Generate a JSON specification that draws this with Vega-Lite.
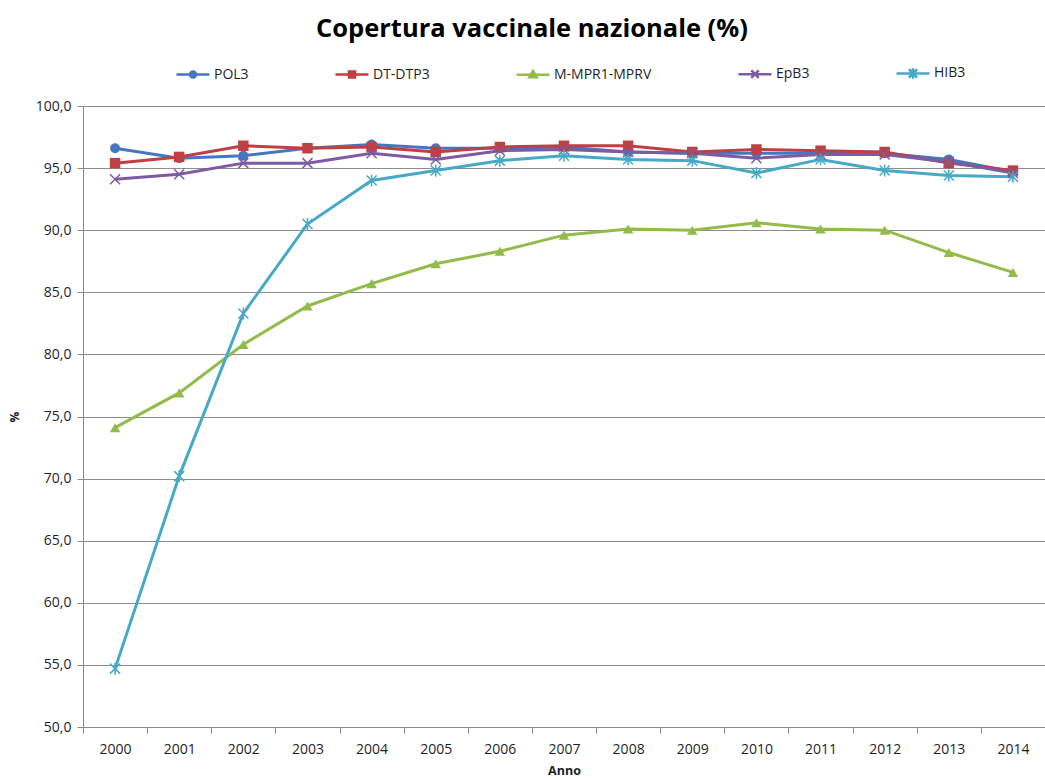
{
  "$schema": "https://vega.github.io/schema/vega-lite/v6.json",
  "autosize": "none",
  "padding": {"left": 83, "top": 106, "right": 0, "bottom": 53},
  "width": 962,
  "height": 621,
  "background": "white",
  "title": {
    "text": "Copertura vaccinale nazionale (%)",
    "font": "Open Sans",
    "fontSize": 25.5,
    "fontWeight": "bold",
    "color": "#000000",
    "anchor": "middle",
    "frame": "bounds",
    "offset": 22,
    "dx": 5
  },
  "data": {
    "values": [
      {"anno": "2000", "serie": "POL3", "v": 96.6},
      {"anno": "2001", "serie": "POL3", "v": 95.8},
      {"anno": "2002", "serie": "POL3", "v": 96.0},
      {"anno": "2003", "serie": "POL3", "v": 96.6},
      {"anno": "2004", "serie": "POL3", "v": 96.9},
      {"anno": "2005", "serie": "POL3", "v": 96.6},
      {"anno": "2006", "serie": "POL3", "v": 96.6},
      {"anno": "2007", "serie": "POL3", "v": 96.7},
      {"anno": "2008", "serie": "POL3", "v": 96.3},
      {"anno": "2009", "serie": "POL3", "v": 96.2},
      {"anno": "2010", "serie": "POL3", "v": 96.2},
      {"anno": "2011", "serie": "POL3", "v": 96.2},
      {"anno": "2012", "serie": "POL3", "v": 96.2},
      {"anno": "2013", "serie": "POL3", "v": 95.7},
      {"anno": "2014", "serie": "POL3", "v": 94.7},
      {"anno": "2000", "serie": "DT-DTP3", "v": 95.4},
      {"anno": "2001", "serie": "DT-DTP3", "v": 95.9},
      {"anno": "2002", "serie": "DT-DTP3", "v": 96.8},
      {"anno": "2003", "serie": "DT-DTP3", "v": 96.6},
      {"anno": "2004", "serie": "DT-DTP3", "v": 96.7},
      {"anno": "2005", "serie": "DT-DTP3", "v": 96.3},
      {"anno": "2006", "serie": "DT-DTP3", "v": 96.7},
      {"anno": "2007", "serie": "DT-DTP3", "v": 96.8},
      {"anno": "2008", "serie": "DT-DTP3", "v": 96.8},
      {"anno": "2009", "serie": "DT-DTP3", "v": 96.3},
      {"anno": "2010", "serie": "DT-DTP3", "v": 96.5},
      {"anno": "2011", "serie": "DT-DTP3", "v": 96.4},
      {"anno": "2012", "serie": "DT-DTP3", "v": 96.3},
      {"anno": "2013", "serie": "DT-DTP3", "v": 95.4},
      {"anno": "2014", "serie": "DT-DTP3", "v": 94.8},
      {"anno": "2000", "serie": "M-MPR1-MPRV", "v": 74.1},
      {"anno": "2001", "serie": "M-MPR1-MPRV", "v": 76.9},
      {"anno": "2002", "serie": "M-MPR1-MPRV", "v": 80.8},
      {"anno": "2003", "serie": "M-MPR1-MPRV", "v": 83.9},
      {"anno": "2004", "serie": "M-MPR1-MPRV", "v": 85.7},
      {"anno": "2005", "serie": "M-MPR1-MPRV", "v": 87.3},
      {"anno": "2006", "serie": "M-MPR1-MPRV", "v": 88.3},
      {"anno": "2007", "serie": "M-MPR1-MPRV", "v": 89.6},
      {"anno": "2008", "serie": "M-MPR1-MPRV", "v": 90.1},
      {"anno": "2009", "serie": "M-MPR1-MPRV", "v": 90.0},
      {"anno": "2010", "serie": "M-MPR1-MPRV", "v": 90.6},
      {"anno": "2011", "serie": "M-MPR1-MPRV", "v": 90.1},
      {"anno": "2012", "serie": "M-MPR1-MPRV", "v": 90.0},
      {"anno": "2013", "serie": "M-MPR1-MPRV", "v": 88.2},
      {"anno": "2014", "serie": "M-MPR1-MPRV", "v": 86.6},
      {"anno": "2000", "serie": "EpB3", "v": 94.1},
      {"anno": "2001", "serie": "EpB3", "v": 94.5},
      {"anno": "2002", "serie": "EpB3", "v": 95.4},
      {"anno": "2003", "serie": "EpB3", "v": 95.4},
      {"anno": "2004", "serie": "EpB3", "v": 96.2},
      {"anno": "2005", "serie": "EpB3", "v": 95.7},
      {"anno": "2006", "serie": "EpB3", "v": 96.4},
      {"anno": "2007", "serie": "EpB3", "v": 96.5},
      {"anno": "2008", "serie": "EpB3", "v": 96.3},
      {"anno": "2009", "serie": "EpB3", "v": 96.2},
      {"anno": "2010", "serie": "EpB3", "v": 95.8},
      {"anno": "2011", "serie": "EpB3", "v": 96.1},
      {"anno": "2012", "serie": "EpB3", "v": 96.1},
      {"anno": "2013", "serie": "EpB3", "v": 95.5},
      {"anno": "2014", "serie": "EpB3", "v": 94.6},
      {"anno": "2000", "serie": "HIB3", "v": 54.7},
      {"anno": "2001", "serie": "HIB3", "v": 70.2},
      {"anno": "2002", "serie": "HIB3", "v": 83.3},
      {"anno": "2003", "serie": "HIB3", "v": 90.5},
      {"anno": "2004", "serie": "HIB3", "v": 94.0},
      {"anno": "2005", "serie": "HIB3", "v": 94.8},
      {"anno": "2006", "serie": "HIB3", "v": 95.6},
      {"anno": "2007", "serie": "HIB3", "v": 96.0},
      {"anno": "2008", "serie": "HIB3", "v": 95.7},
      {"anno": "2009", "serie": "HIB3", "v": 95.6},
      {"anno": "2010", "serie": "HIB3", "v": 94.6},
      {"anno": "2011", "serie": "HIB3", "v": 95.7},
      {"anno": "2012", "serie": "HIB3", "v": 94.8},
      {"anno": "2013", "serie": "HIB3", "v": 94.4},
      {"anno": "2014", "serie": "HIB3", "v": 94.3}
    ]
  },
  "encoding": {
    "x": {
      "field": "anno",
      "type": "ordinal",
      "bandPosition": 0.5,
      "scale": {"type": "band", "paddingInner": 0, "paddingOuter": 0},
      "axis": {
        "title": "Anno",
        "labelAngle": 0,
        "tickBand": "extent",
        "grid": false,
        "domainColor": "#8a8a8a",
        "tickColor": "#8a8a8a",
        "tickSize": 6,
        "labelPadding": 9,
        "labelFontSize": 14,
        "labelColor": "#1e1e2a",
        "titleFontSize": 12.5,
        "titleFontWeight": "bold",
        "titlePadding": 8,
        "titleColor": "#1e1e2a"
      }
    },
    "y": {
      "field": "v",
      "type": "quantitative",
      "scale": {"domain": [50, 100], "nice": false, "zero": false},
      "axis": {
        "title": "%",
        "values": [50, 55, 60, 65, 70, 75, 80, 85, 90, 95, 100],
        "format": ".1f",
        "grid": true,
        "gridColor": "#8c8c8c",
        "gridWidth": 1,
        "domainColor": "#8a8a8a",
        "tickColor": "#8a8a8a",
        "tickSize": 6,
        "labelPadding": 6,
        "labelFontSize": 14,
        "labelColor": "#1e1e2a",
        "titleFontSize": 12,
        "titleFontWeight": "bold",
        "titlePadding": 14,
        "titleColor": "#1e1e2a"
      }
    },
    "color": {
      "field": "serie",
      "type": "nominal",
      "scale": {
        "domain": ["POL3", "DT-DTP3", "M-MPR1-MPRV", "EpB3", "HIB3"],
        "range": ["#4577c0", "#be4040", "#93bb4a", "#7d5ba3", "#46a9c6"]
      },
      "legend": {
        "title": null,
        "orient": "none",
        "direction": "horizontal",
        "legendX": 101,
        "legendY": -42,
        "columnPadding": 81,
        "labelOffset": 12,
        "labelFontSize": 14,
        "labelFont": "Open Sans",
        "labelColor": "#1e1e2a",
        "symbolSize": 225,
        "symbolStrokeWidth": 2.5
      }
    }
  },
  "layer": [
    {
      "mark": {"type": "line", "strokeWidth": 3},
      "encoding": {"detail": {"field": "serie"}}
    },
    {
      "transform": [{"filter": "datum.serie == 'POL3'"}],
      "mark": {"type": "point", "shape": "circle", "filled": true, "size": 100, "opacity": 1}
    },
    {
      "transform": [{"filter": "datum.serie == 'DT-DTP3'"}],
      "mark": {"type": "point", "shape": "square", "filled": true, "size": 110, "opacity": 1}
    },
    {
      "transform": [{"filter": "datum.serie == 'M-MPR1-MPRV'"}],
      "mark": {"type": "point", "shape": "triangle-up", "filled": true, "size": 110, "opacity": 1}
    },
    {
      "transform": [{"filter": "datum.serie == 'EpB3'"}],
      "mark": {"type": "point", "shape": "M-1,-1L1,1M-1,1L1,-1", "filled": false, "size": 100, "strokeWidth": 1.5, "opacity": 1}
    },
    {
      "transform": [{"filter": "datum.serie == 'HIB3'"}],
      "mark": {"type": "point", "shape": "M-1,-1L1,1M-1,1L1,-1M0,-1.2L0,1.2", "filled": false, "size": 100, "strokeWidth": 1.5, "opacity": 1}
    },
    {
      "transform": [{"filter": "datum.v > 1000"}],
      "mark": {"type": "point", "filled": true, "size": 225, "strokeWidth": 2.5, "opacity": 1},
      "encoding": {
        "stroke": {
          "field": "serie",
          "type": "nominal",
          "scale": {
            "domain": ["POL3", "DT-DTP3", "M-MPR1-MPRV", "EpB3", "HIB3"],
            "range": ["#4577c0", "#be4040", "#93bb4a", "#7d5ba3", "#46a9c6"]
          }
        },
        "shape": {
          "field": "serie",
          "type": "nominal",
          "scale": {
            "domain": ["POL3", "DT-DTP3", "M-MPR1-MPRV", "EpB3", "HIB3"],
            "range": [
              "M-2.2,0L2.2,0M-0.4,0A0.4,0.4 0 1,1 0.4,0A0.4,0.4 0 1,1 -0.4,0Z",
              "M-2.2,0L2.2,0M-0.4,-0.4L0.4,-0.4L0.4,0.4L-0.4,0.4Z",
              "M-2.2,0L2.2,0M0,-0.5L0.5,0.35L-0.5,0.35Z",
              "M-2.2,0L2.2,0M-0.5,-0.5L0.5,0.5M-0.5,0.5L0.5,-0.5",
              "M-2.2,0L2.2,0M-0.55,-0.55L0.55,0.55M-0.55,0.55L0.55,-0.55M0,-0.7L0,0.7"
            ]
          }
        }
      }
    }
  ],
  "config": {
    "locale": {"number": {"decimal": ",", "thousands": ".", "grouping": [3], "currency": ["", " €"]}},
    "view": {"stroke": null},
    "font": "Open Sans",
    "axis": {"labelFont": "Open Sans", "titleFont": "Open Sans"},
    "legend": {"labelFont": "Open Sans"}
  }
}
